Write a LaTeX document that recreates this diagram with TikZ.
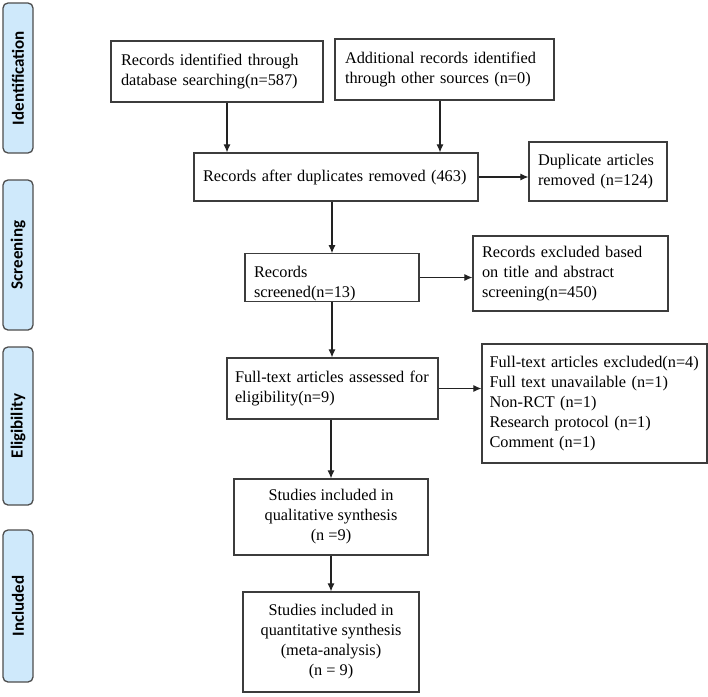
\documentclass[tikz,border=0pt]{standalone}
\usepackage{fontspec}
\setmainfont{Liberation Serif}
\newfontfamily\sidefont{Carlito}
\usetikzlibrary{arrows.meta}
\definecolor{sideblue}{HTML}{CFE9FB}
\definecolor{sidegray}{HTML}{4D4D4D}
\definecolor{boxgray}{HTML}{3C3C3C}
\definecolor{arrgray}{HTML}{222222}
\newcommand{\nb}[1]{\mbox{#1}}
\begin{document}
\begin{tikzpicture}[x=1pt,y=-1pt,
  box/.style={draw=boxgray, line width=1.2pt, inner sep=0pt, font=\fontsize{16.3}{20}\selectfont},
  lbox/.style={box, align=left},
  cbox/.style={box, align=center},
  side/.style={draw=sidegray, fill=sideblue, line width=1.3pt, rounded corners=5pt, minimum height=30pt, inner sep=0pt, rotate=90, font=\sidefont\bfseries\fontsize{17}{20}\selectfont},
  arr/.style={-{Latex[length=8pt,width=7pt]}, line width=1.1pt, draw=arrgray}]
\useasboundingbox (0,0) rectangle (708,696);

% side labels
\node[side, minimum width=150pt] (sid) at (18,78) {Identification};
\node[side, minimum width=150pt] (scr) at (18,255) {Screening};
\node[side, minimum width=158pt] (eli) at (18,426) {Eligibility};
\node[side, minimum width=152pt] (inc) at (18,606) {Included};

% boxes
\node[lbox, minimum width=212pt, minimum height=61pt, text width=192pt] (b1) at (217,71.5) {\nb{Records identified through}\\\nb{database searching(n=587)}};
\node[lbox, minimum width=219pt, minimum height=61pt, text width=199pt] (b2) at (444.5,69.5) {\nb{Additional records identified}\\\nb{through other sources (n=0)}};
\node[lbox, minimum width=284pt, minimum height=48pt, text width=266pt] (b3) at (336,177) {\nb{Records after duplicates removed (463)}};
\node[lbox, minimum width=138pt, minimum height=59pt, text width=120pt] (b4) at (598,171.5) {\nb{Duplicate articles}\\\nb{removed (n=124)}};
\node[lbox, minimum width=174pt, minimum height=47pt, text width=156pt] (b5) at (332,277.5) {\rule{0pt}{24pt}Records\\\nb{screened(n=13)}};
\node[lbox, minimum width=195pt, minimum height=75pt, text width=177pt] (b6) at (570.5,273.5) {\nb{Records excluded based}\\\nb{on title and abstract}\\\nb{screening(n=450)}};
\node[lbox, minimum width=211pt, minimum height=61pt, text width=195pt] (b7) at (332.5,388.5) {\nb{Full-text articles assessed for}\\\nb{eligibility(n=9)}};
\node[lbox, minimum width=225pt, minimum height=119pt, text width=210pt] (b8) at (594.5,403.5) {\nb{Full-text articles excluded(n=4)}\\\nb{Full text unavailable (n=1)}\\\nb{Non-RCT (n=1)}\\\nb{Research protocol (n=1)}\\\nb{Comment (n=1)}};
\node[cbox, minimum width=194pt, minimum height=76pt] (b9) at (331,517) {Studies included in\\qualitative synthesis\\(n =9)};
\node[cbox, minimum width=176pt, minimum height=100pt] (b10) at (331,642) {Studies included in\\quantitative synthesis\\(meta-analysis)\\(n = 9)};

% connectors
\coordinate (xa) at (227,0);
\coordinate (xb) at (440,0);
\draw[arr] (b1.south -| xa) -- (b3.north -| xa);
\draw[arr] (b2.south -| xb) -- (b3.north -| xb);
\draw[arr] (b3.east) -- (b4.west |- b3.east);
\draw[arr] (b3.south -| b5.north) -- (b5.north);
\draw[arr] (b5.east) -- (b6.west |- b5.east);
\draw[arr] (b5.south) -- (b7.north -| b5.south);
\draw[arr] (b7.east) -- (b8.west |- b7.east);
\draw[arr] (b7.south -| b9.north) -- (b9.north);
\draw[arr] (b9.south) -- (b10.north -| b9.south);
\end{tikzpicture}
\end{document}
